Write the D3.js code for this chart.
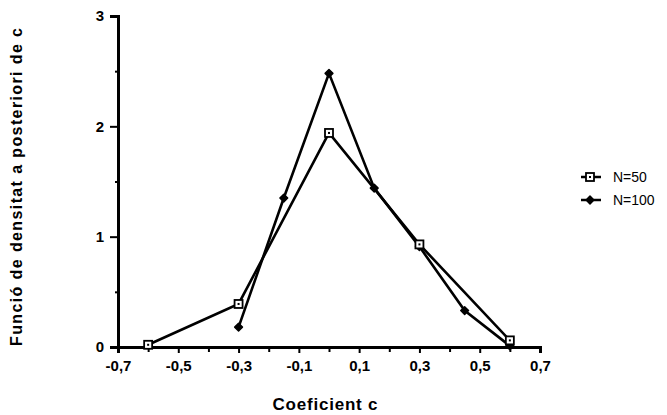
<!DOCTYPE html>
<html>
<head>
<meta charset="utf-8">
<script src="https://cdn.jsdelivr.net/npm/d3@7"></script>
<style>
body { margin: 0; background: #fff; }
text { font-family: "Liberation Sans", Arial, sans-serif; font-weight: bold; fill: #000; }
</style>
</head>
<body>
<div id="chart"></div>
<script>
// values
var seriesNames = ["N=50", "N=100"];
var n50 = [[-0.6, 0.02], [-0.3, 0.39], [0, 1.94], [0.3, 0.93], [0.6, 0.06]];
var n100 = [[-0.3, 0.18], [-0.15, 1.35], [0, 2.48], [0.15, 1.44], [0.3, 0.91], [0.45, 0.33], [0.6, 0.01]];
var xTicks = [-0.7, -0.5, -0.3, -0.1, 0.1, 0.3, 0.5, 0.7];
var xMinor = [-0.6, -0.4, -0.2, 0, 0.2, 0.4, 0.6];
var yTicks = [0, 1, 2, 3];
var yMinor = [0.5, 1.5, 2.5];

var width = 667, height = 415;
var svg = d3.select("#chart").append("svg")
	.attr("width", width)
	.attr("height", height);

var xScale = d3.scaleLinear().domain([-0.7, 0.7]).range([118, 540]);
var yScale = d3.scaleLinear().domain([0, 3]).range([347, 16]);

var fmt = function(d) { return d3.format(".1f")(d).replace(".", ",").replace("−", "-"); };

// x axis
var xAxis = svg.append("g")
	.attr("transform", "translate(0," + yScale(0) + ")")
	.call(d3.axisBottom(xScale).tickValues(xTicks).tickSize(6).tickFormat(fmt).tickPadding(7));
xAxis.selectAll(".tick text").style("font-size", "15px");
svg.append("g")
	.attr("transform", "translate(0," + yScale(0) + ")")
	.call(d3.axisBottom(xScale).tickValues(xMinor).tickSize(5).tickFormat(""));

// y axis
var yAxis = svg.append("g")
	.attr("transform", "translate(" + xScale(-0.7) + ",0)")
	.call(d3.axisLeft(yScale).tickValues(yTicks).tickSize(8).tickFormat(d3.format("d")).tickPadding(6));
yAxis.selectAll(".tick text").style("font-size", "15px");
svg.append("g")
	.attr("transform", "translate(" + xScale(-0.7) + ",0)")
	.call(d3.axisLeft(yScale).tickValues(yMinor).tickSize(3).tickFormat(""));

svg.selectAll(".domain").attr("stroke", "#000").attr("stroke-width", 3);
svg.selectAll(".tick line").attr("stroke", "#000").attr("stroke-width", 2);

// axis titles
svg.append("text")
	.attr("x", 325)
	.attr("y", 410)
	.attr("text-anchor", "middle")
	.attr("textLength", 105)
	.style("font-size", "17px")
	.text("Coeficient c");
svg.append("text")
	.attr("transform", "translate(22,187) rotate(-90)")
	.attr("text-anchor", "middle")
	.attr("textLength", 318)
	.style("font-size", "16px")
	.text("Funció de densitat a posteriori de c");

var line = d3.line()
	.x(function(d) { return xScale(d[0]); })
	.y(function(d) { return yScale(d[1]); });

svg.append("path").datum(n50).attr("d", line)
	.attr("fill", "none").attr("stroke", "#000").attr("stroke-width", 2.6);
svg.append("path").datum(n100).attr("d", line)
	.attr("fill", "none").attr("stroke", "#000").attr("stroke-width", 2.6);

function squareMark(g, x, y) {
	g.append("rect").attr("x", x - 4).attr("y", y - 4).attr("width", 8).attr("height", 8)
		.attr("fill", "#fff").attr("stroke", "#000").attr("stroke-width", 1.8);
	g.append("rect").attr("x", x - 1).attr("y", y - 1).attr("width", 2).attr("height", 2).attr("fill", "#000");
}
function dotMark(g, x, y) {
	g.append("path")
		.attr("d", d3.symbol().type(d3.symbolSquare).size(30)())
		.attr("transform", "translate(" + x + "," + y + ") rotate(45)")
		.attr("fill", "#000").attr("stroke", "#000").attr("stroke-width", 1.5).attr("stroke-linejoin", "round");
}

var marks = svg.append("g");
n100.forEach(function(d) { dotMark(marks, xScale(d[0]), yScale(d[1])); });
n50.forEach(function(d) { squareMark(marks, xScale(d[0]), yScale(d[1])); });

// legend
var legend = svg.append("g");
[0, 1].forEach(function(i) {
	var y = 177 + i * 23;
	legend.append("line").attr("x1", 581).attr("x2", 601).attr("y1", y).attr("y2", y)
		.attr("stroke", "#000").attr("stroke-width", 2.5);
	if (i == 0) squareMark(legend, 590, y);
	else dotMark(legend, 590, y);
	legend.append("text").attr("x", 613).attr("y", y + 5)
		.style("font-size", "14px").style("font-weight", "normal")
		.text(seriesNames[i]);
});
</script>
</body>
</html>
